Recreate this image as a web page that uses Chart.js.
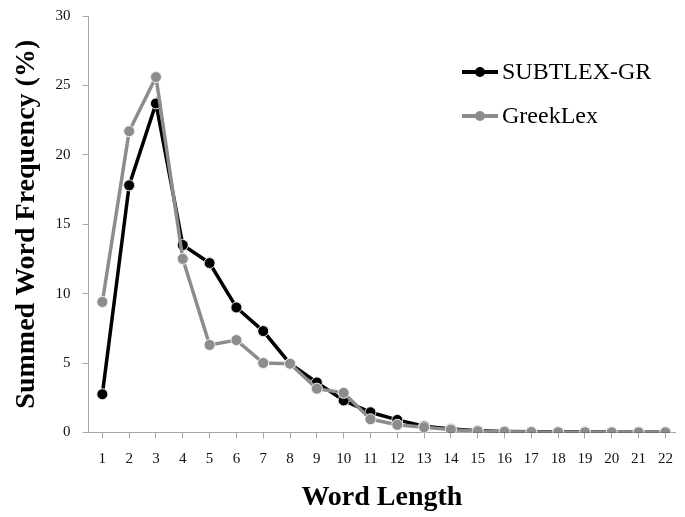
<!DOCTYPE html>
<html>
<head>
<meta charset="utf-8">
<script src="https://cdn.jsdelivr.net/npm/chart.js@4"></script>
<style>
  html, body { margin: 0; padding: 0; background: #fff; }
  #wrap { width: 685px; height: 517px; }
</style>
</head>
<body>
<div id="wrap"><canvas id="myChart"></canvas></div>
<script>
const wordLengths = [1, 2, 3, 4, 5, 6, 7, 8, 9, 10, 11, 12, 13, 14, 15, 16, 17, 18, 19, 20, 21, 22];
const subtlexGR = [2.75, 17.8, 23.7, 13.5, 12.2, 9.0, 7.3, 4.95, 3.6, 2.3, 1.45, 0.9, 0.45, 0.25, 0.12, 0.07, 0.04, 0.03, 0.02, 0.01, 0.01, 0.01];
const greekLex = [9.4, 21.7, 25.6, 12.5, 6.3, 6.65, 5.0, 4.95, 3.15, 2.85, 0.95, 0.55, 0.37, 0.2, 0.08, 0.04, 0.02, 0.01, 0.01, 0.0, 0.0, 0.0];
const yTicks = [0, 5, 10, 15, 20, 25, 30];

const serif = '"Liberation Serif", "Times New Roman", serif';
const axisGray = '#a6a6a6';
const seriesGray = '#8c8c8c';

// legend drawn inside the plot, top right, like the original
const insideLegend = {
  id: 'insideLegend',
  afterDraw(chart) {
    const ctx = chart.ctx;
    const items = [
      { label: 'SUBTLEX-GR', color: '#000000', y: 72 },
      { label: 'GreekLex', color: seriesGray, y: 116 },
    ];
    ctx.save();
    items.forEach((it) => {
      ctx.strokeStyle = it.color;
      ctx.lineWidth = 4;
      ctx.beginPath();
      ctx.moveTo(462, it.y);
      ctx.lineTo(498, it.y);
      ctx.stroke();
      ctx.fillStyle = it.color;
      ctx.beginPath();
      ctx.arc(480, it.y, 5, 0, Math.PI * 2);
      ctx.fill();
      ctx.fillStyle = '#000';
      ctx.font = '24px ' + serif;
      ctx.textBaseline = 'middle';
      ctx.textAlign = 'left';
      ctx.fillText(it.label, 502, it.y + 1);
    });
    ctx.restore();
  },
};

window.addEventListener('DOMContentLoaded', () => {
  const data = {
    labels: wordLengths,
    datasets: [
      {
        label: 'SUBTLEX-GR',
        data: subtlexGR,
        borderColor: '#000000',
        backgroundColor: '#000000',
        pointBorderColor: '#e8e8e8',
        borderWidth: 3.5,
        pointRadius: 5.5,
        pointBorderWidth: 1,
        order: 2,
      },
      {
        label: 'GreekLex',
        data: greekLex,
        borderColor: seriesGray,
        backgroundColor: seriesGray,
        pointBorderColor: '#eeeeee',
        borderWidth: 3.5,
        pointRadius: 5.5,
        pointBorderWidth: 1,
        order: 1,
      },
    ],
  };

  const config = {
    type: 'line',
    data,
    options: {
      responsive: true,
      maintainAspectRatio: false,
      animation: false,
      layout: { padding: { top: 0, right: 0, bottom: 2, left: 10 } },
      plugins: {
        legend: { display: false },
        tooltip: { enabled: false },
      },
      scales: {
        x: {
          type: 'linear',
          min: 0.487,
          max: 22.366,
          afterBuildTicks: (axis) => {
            axis.ticks = wordLengths.map((v) => ({ value: v }));
          },
          grid: { drawOnChartArea: false, color: axisGray, tickLength: 6 },
          border: { color: axisGray, width: 1 },
          ticks: {
            autoSkip: false,
            maxRotation: 0,
            color: '#111',
            font: { family: serif, size: 15 },
            padding: 12,
          },
          title: {
            display: true,
            text: 'Word Length',
            color: '#000',
            font: { family: serif, size: 28, weight: 'bold' },
            padding: { top: 1, bottom: 0 },
          },
        },
        y: {
          min: 0,
          max: 30,
          afterBuildTicks: (axis) => {
            axis.ticks = yTicks.map((v) => ({ value: v }));
          },
          afterFit: (axis) => {
            axis.paddingTop = 16;
          },
          grid: { drawOnChartArea: false, color: axisGray, tickLength: 6 },
          border: { color: axisGray, width: 1 },
          ticks: {
            color: '#111',
            font: { family: serif, size: 15 },
            padding: 12,
          },
          title: {
            display: true,
            text: 'Summed Word Frequency (%)',
            color: '#000',
            font: { family: serif, size: 28, weight: 'bold' },
            padding: { top: 0, bottom: 0 },
          },
        },
      },
    },
    plugins: [insideLegend],
  };

  const ctx = document.getElementById('myChart');
  const chart = new Chart(ctx, config);
});
</script>
</body>
</html>
